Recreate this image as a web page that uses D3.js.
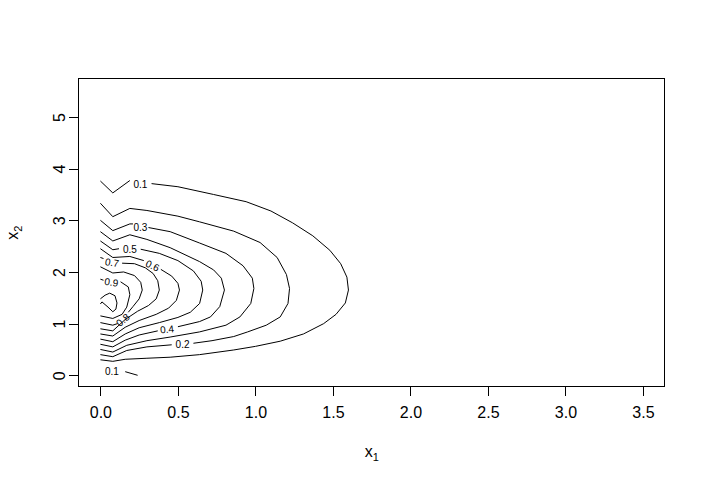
<!DOCTYPE html>
<html><head><meta charset="utf-8">
<script src="https://cdn.jsdelivr.net/npm/d3@7"></script>
<style>body{margin:0;background:#fff}svg{display:block}text{font-family:"Liberation Sans",Arial,sans-serif}</style>
</head><body>
<script>
// ---- data (data units) ----
const xTicks = [0, 0.5, 1, 1.5, 2, 2.5, 3, 3.5];
const yTicks = [0, 1, 2, 3, 4, 5];
const xLabel = "x", xSub = "1", yLabel = "x", ySub = "2";
const levels = ["0.1","0.2","0.3","0.4","0.5","0.6","0.7","0.8","0.9","1.0"];
// each level: list of polyline pieces [x1, x2]
const c01 = [
  [[0,3.76],[0.08,3.53],[0.19,3.77]],
  [[0.33,3.71],[0.5,3.65],[0.73,3.50],[0.94,3.36],[1.1,3.18],[1.24,2.95],[1.37,2.70],[1.48,2.42],[1.55,2.16],[1.59,1.90],[1.60,1.65],[1.58,1.40],[1.52,1.18],[1.44,1.0],[1.31,0.80],[1.16,0.66],[1.0,0.56],[0.86,0.49],[0.64,0.40],[0.45,0.35],[0.3,0.33],[0.16,0.31],[0.08,0.27],[0,0.30]],
  [[0.16,0.07],[0.24,0.0]]
];
const c02 = [
  [[0,3.33],[0.08,3.07],[0.19,3.23],[0.3,3.19],[0.5,3.08],[0.64,2.97],[0.86,2.79],[1.03,2.57],[1.14,2.28],[1.20,1.95],[1.22,1.68],[1.21,1.39],[1.16,1.13],[1.07,0.97],[0.95,0.84],[0.86,0.75],[0.72,0.67],[0.6,0.62]],
  [[0.46,0.59],[0.3,0.55],[0.17,0.48],[0.08,0.36],[0,0.40]]
];
const c03 = [
  [[0,3.0],[0.08,2.80],[0.19,2.93],[0.21,2.93]],
  [[0.31,2.86],[0.45,2.78],[0.64,2.56],[0.81,2.36],[0.92,2.12],[0.98,1.88],[0.99,1.68],[0.97,1.39],[0.90,1.13],[0.81,0.97],[0.64,0.84],[0.45,0.74],[0.3,0.67],[0.17,0.58],[0.08,0.45],[0,0.50]]
];
const c04 = [
  [[0,2.78],[0.08,2.60],[0.19,2.72],[0.3,2.63],[0.45,2.47],[0.64,2.20],[0.73,2.04],[0.78,1.88],[0.80,1.65],[0.77,1.33],[0.71,1.13],[0.64,1.04],[0.5,0.94]],
  [[0.37,0.86],[0.25,0.78],[0.16,0.68],[0.08,0.55],[0,0.60]]
];
const c05 = [
  [[0,2.6],[0.08,2.43],[0.12,2.45]],
  [[0.26,2.44],[0.38,2.36],[0.5,2.22],[0.6,2.02],[0.65,1.82],[0.66,1.65],[0.64,1.39],[0.58,1.22],[0.5,1.12],[0.38,1.02],[0.25,0.92],[0.16,0.80],[0.08,0.65],[0,0.70]]
];
const c06 = [
  [[0,2.45],[0.08,2.28],[0.19,2.30],[0.28,2.22]],
  [[0.39,2.05],[0.46,1.92],[0.5,1.78],[0.51,1.65],[0.49,1.45],[0.44,1.30],[0.36,1.18],[0.25,1.06],[0.16,0.93],[0.08,0.76],[0,0.80]]
];
const c07 = [
  [[0,2.28],[0.02,2.26]],
  [[0.14,2.17],[0.22,2.16],[0.29,2.08],[0.34,1.97],[0.37,1.83],[0.38,1.65],[0.36,1.48],[0.31,1.35],[0.24,1.24],[0.16,1.08],[0.08,0.86],[0,0.90]]
];
const c08 = [
  [[0,2.1],[0.08,1.98],[0.15,2.0],[0.22,1.93],[0.26,1.80],[0.27,1.65],[0.25,1.48],[0.21,1.33],[0.18,1.22]],
  [[0.11,1.0],[0.08,0.97],[0,1.02]]
];
const c09 = [
  [[0,1.86],[0.02,1.84]],
  [[0.13,1.81],[0.18,1.71],[0.19,1.56],[0.17,1.32],[0.14,1.18],[0.08,1.10],[0,1.15]]
];
const c10 = [
  [[0,1.48],[0.03,1.55],[0.06,1.59],[0.094,1.54],[0.107,1.40],[0.10,1.28],[0.08,1.23],[0.049,1.32],[0.01,1.42],[0,1.38]]
];
const contourPieces = [c01,c02,c03,c04,c05,c06,c07,c08,c09,c10];
// contour labels: text, x1, x2, angle (deg)
const labText = ["0.1","0.3","0.5","0.7","0.6","0.9","0.8","0.4","0.2","0.1"];
const labX    = [0.258,0.258,0.19,0.074,0.336,0.071,0.145,0.43,0.53,0.074];
const labY    = [3.70,2.87,2.43,2.18,2.12,1.80,1.07,0.89,0.60,0.064];
const labAng  = [0,0,0,10,25,8,-40,-6,0,0];

// ---- layout ----
const W = 705, H = 485;
const L = 78.7, R = 664.7, T = 78.7, B = 386.7;
const xMax = 3.5, yMax = 5.52;
const svg = d3.select("body").append("svg").attr("width", W).attr("height", H);
const x = d3.scaleLinear().domain([-0.04*xMax, 1.04*xMax]).range([L, R]);
const y = d3.scaleLinear().domain([-0.04*yMax, 1.04*yMax]).range([B, T]);

const line = d3.line().x(d => x(d[0])).y(d => y(d[1]));
const g = svg.append("g");
contourPieces.forEach(pieces => pieces.forEach(p => {
  g.append("path").attr("d", line(p)).attr("fill","none").attr("stroke","#000").attr("stroke-width",1);
}));
labText.forEach((t,i) => {
  svg.append("text").attr("transform", `translate(${x(labX[i])},${y(labY[i])}) rotate(${labAng[i]})`)
    .attr("text-anchor","middle").attr("dy","0.35em").attr("font-size","10px").text(t);
});

// box
svg.append("rect").attr("x",L).attr("y",T).attr("width",R-L).attr("height",B-T)
  .attr("fill","none").attr("stroke","#000").attr("stroke-width",1).attr("shape-rendering","crispEdges");

// axes
const xAxis = svg.append("g").attr("transform",`translate(0,${B})`)
  .call(d3.axisBottom(x).tickValues(xTicks).tickFormat(d3.format(".1f")).tickSize(9.6).tickPadding(10));
xAxis.select(".domain").remove();
xAxis.selectAll("text").attr("font-size","16px").attr("font-family","Liberation Sans, Arial, sans-serif").attr("fill","#000");
xAxis.selectAll("line").attr("shape-rendering","crispEdges");

const yAxis = svg.append("g").attr("transform",`translate(${L},0)`)
  .call(d3.axisLeft(y).tickValues(yTicks).tickFormat(d3.format("d")).tickSize(9.6).tickPadding(0));
yAxis.select(".domain").remove();
yAxis.selectAll("line").attr("shape-rendering","crispEdges");
yAxis.selectAll("text").attr("font-size","16px").attr("font-family","Liberation Sans, Arial, sans-serif")
  .attr("fill","#000").attr("text-anchor","middle").attr("x",null).attr("dy",null)
  .attr("transform","translate(-19,0) rotate(-90)").attr("dy","0.35em");

// axis titles
const xt = svg.append("text").attr("x",(L+R)/2).attr("y",B+70).attr("text-anchor","middle").attr("font-size","16px");
xt.append("tspan").text(xLabel);
xt.append("tspan").attr("font-size","11px").attr("dy",4).text(xSub);
const yt = svg.append("text").attr("transform",`translate(18,${(T+B)/2}) rotate(-90)`).attr("text-anchor","middle").attr("font-size","16px");
yt.append("tspan").text(yLabel);
yt.append("tspan").attr("font-size","11px").attr("dy",4).text(ySub);
</script>
</body></html>
